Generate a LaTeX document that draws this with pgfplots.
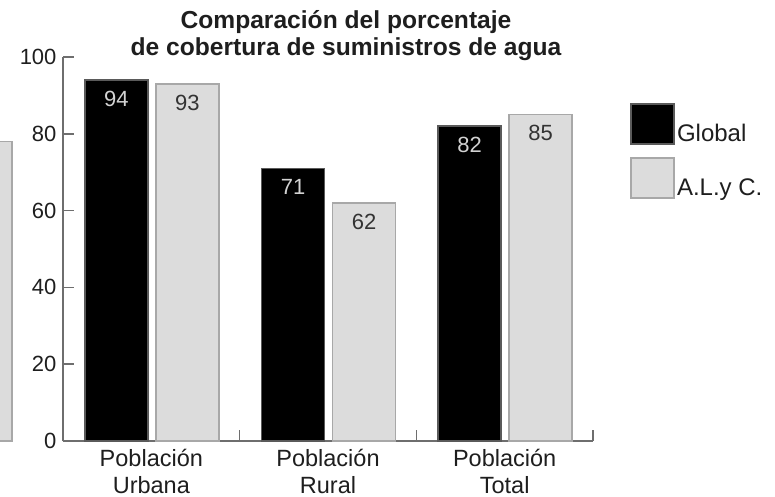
\documentclass[border=0pt]{standalone}
\usepackage{pgfplots}
\pgfplotsset{compat=1.18}
\usepackage{fontspec}
\setmainfont{Liberation Sans}

\definecolor{barblackedge}{HTML}{5A5A5A}
\definecolor{bargray}{HTML}{DCDCDC}
\definecolor{bargrayedge}{HTML}{A8A8A8}
\definecolor{axisgray}{HTML}{6E6E6E}
\definecolor{txt}{HTML}{1E1E1E}
\definecolor{lbllight}{HTML}{D2D2D2}
\definecolor{lbldark}{HTML}{333333}

\pgfplotsset{
  sqlegend/.style={legend image code/.code={\draw[##1] (0pt,-10pt) rectangle (43pt,30pt);}},
  valuelabel/.style 2 args={nodes near coords,
    every node near coord/.append style={anchor=north, inner sep=0pt, yshift=-10pt,
      xshift=#2, text=#1, font=\fontsize{22}{26}\selectfont}},
}

\begin{document}
\begin{tikzpicture}
\begin{axis}[
  at={(0pt,0pt)}, anchor=south west,
  scale only axis, width=530pt, height=384pt,
  xmin=-0.5, xmax=2.5, ymin=0, ymax=100,
  clip=false,
  axis x line=bottom, axis y line=left,
  axis line style={-, draw=axisgray, line width=1.6pt},
  tick align=inside,
  major tick length=11pt,
  tick style={draw=axisgray, line width=1.6pt},
  ytick={0,20,...,100},
  yticklabel style={font=\fontsize{22}{26}\selectfont, text=txt, xshift=-3pt},
  /pgf/number format/assume math mode=true,
  xtick={-0.5,0.5,1.5,2.5}, xticklabels={},
  extra x ticks={0,1,2},
  extra x tick labels={Población\\Urbana, Población\\Rural, Población\\Total},
  extra x tick style={major tick length=0pt, tick style={draw=none},
    tick label style={align=center, yshift=-5pt, font=\fontsize{23.5}{26.5}\selectfont, text=txt}},
  title={Comparación del porcentaje\\de cobertura de suministros de agua},
  title style={at={(0.534,1)}, anchor=south, yshift=-10pt, align=center,
    inner sep=0pt, text=txt, font=\bfseries\fontsize{24.6}{27.5}\selectfont},
  legend style={at={(1.0698,0.880)}, anchor=north west, draw=none, fill=none,
    inner sep=0pt, row sep=12pt, font=\fontsize{24}{28}\selectfont, text=txt,
    nodes={inner sep=2pt}},
  legend cell align=left,
]
% Global
\addplot[ybar, bar width=63pt, bar shift=-35pt, fill=black, draw=barblackedge,
  line width=1.5pt, sqlegend, valuelabel={lbllight}{-35pt}]
  coordinates {(0,94) (1,71) (2,82)};
\addlegendentry{Global}
% America Latina y el Caribe
\addplot[ybar, bar width=63pt, bar shift=36pt, fill=bargray, draw=bargrayedge,
  line width=1.8pt, sqlegend, valuelabel={lbldark}{36pt}]
  coordinates {(0,93) (1,62) (2,85)};
\addlegendentry{A.L.y C.}
% last bar of the preceding panel, cut at the page edge
\addplot[ybar, forget plot, bar width=63pt, bar shift=0pt, fill=bargray,
  draw=bargrayedge, line width=1.8pt]
  coordinates {(-0.966,78)};
\end{axis}
\pgfresetboundingbox
\path[use as bounding box] (-63pt,-56pt) rectangle (712pt,441pt);
\end{tikzpicture}
\end{document}
